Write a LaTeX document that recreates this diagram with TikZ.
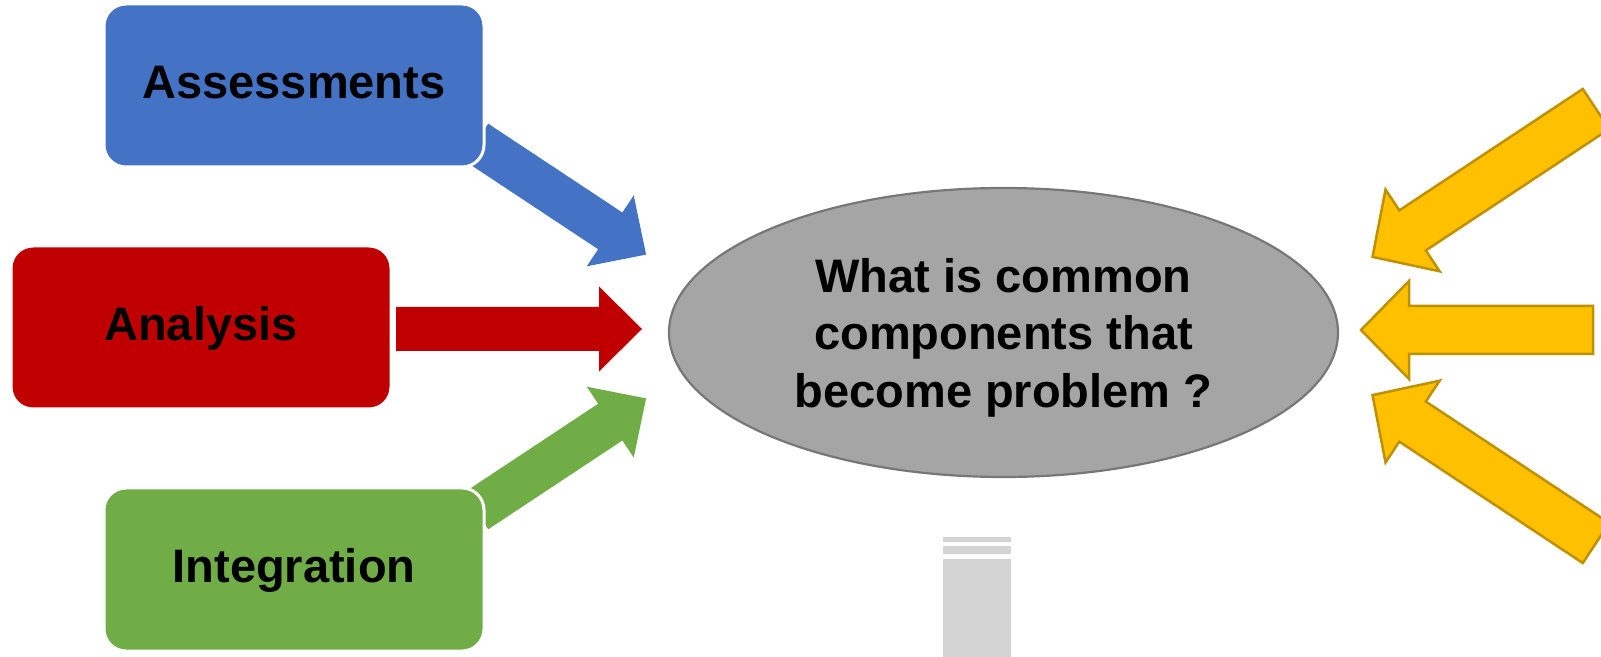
\documentclass[tikz,border=0pt]{standalone}
\usepackage{fontspec}
\setmainfont{Liberation Sans}
\usetikzlibrary{shapes.geometric}

\definecolor{boxblue}{HTML}{4472C4}
\definecolor{boxred}{HTML}{C00000}
\definecolor{boxgreen}{HTML}{70AD47}
\definecolor{gold}{HTML}{FFC000}
\definecolor{golddark}{HTML}{BF9000}
\definecolor{hubfill}{HTML}{A5A5A5}
\definecolor{hubline}{HTML}{777777}
\definecolor{barfill}{HTML}{D4D4D4}

% block arrow: style, tail midpoint, angle, length, shaft half-width, head half-width, head length
\newcommand\blockarrow[7]{%
  \path[#1,shift={(#2)},rotate=#3]
    (0,-#5) -- ({#4-#7},-#5) -- ({#4-#7},-#6) -- (#4,0)
    -- ({#4-#7},#6) -- ({#4-#7},#5) -- (0,#5) -- cycle;}

\tikzset{
  stagebox/.style={rectangle, rounded corners=11pt, draw=white, line width=1.5pt,
    minimum width=190pt, minimum height=81.5pt, inner sep=0pt,
    text height=17.6pt, text depth=4.7pt,
    font=\fontsize{23.5}{28}\selectfont\bfseries, text=black},
  hub/.style={ellipse, fill=hubfill, draw=hubline, line width=1.1pt,
    minimum width=334.5pt, minimum height=144.5pt, inner sep=0pt},
  hubtext/.style={align=center, inner sep=0pt,
    font=\fontsize{23.5}{28.75}\selectfont\bfseries, text=black},
  inarrow/.style={fill=#1},
  goldarrow/.style={fill=gold, draw=golddark, line width=1.25pt, line join=miter},
}

\begin{document}
\begin{tikzpicture}[x=0.5pt, y=-0.5pt]
  \useasboundingbox (0,0) rectangle (1601,657);
  \clip (0,0) rectangle (1601,657);

  % tails of the incoming arrows
  \coordinate (blueTail)  at (476,142);
  \coordinate (redTail)   at (396,329);
  \coordinate (greenTail) at (476,511);
  \coordinate (goldTailA) at (1596,109);
  \coordinate (goldTailB) at (1593,330);
  \coordinate (goldTailC) at (1596,543);

  % arrows from the stages to the question
  \blockarrow{inarrow=boxblue}{blueTail}{-33.5}{204}{22}{42.5}{43}
  \blockarrow{inarrow=boxred}{redTail}{0}{246}{22}{42.5}{43}
  \blockarrow{inarrow=boxgreen}{greenTail}{33.5}{204}{22}{42.5}{43}

  % arrows arriving from the right
  \blockarrow{goldarrow}{goldTailA}{213.5}{268}{24}{49}{48}
  \blockarrow{goldarrow}{goldTailB}{180}{232}{24}{49}{48}
  \blockarrow{goldarrow}{goldTailC}{146.5}{268}{24}{49}{48}

  % stage boxes
  \node[stagebox, fill=boxblue]  (assess) at (294,85.5)  {Assessments};
  \node[stagebox, fill=boxred]   (analys) at (201,327.5) {Analysis};
  \node[stagebox, fill=boxgreen] (integr) at (294,569.5) {Integration};

  % central question
  \node[hub] (question) at (1003.5,332.5) {};
  \node[hubtext] (questionText) at ([yshift=-2.5pt]question.center)
    {What is common\\components that\\become problem ?};

  % grey bar below
  \fill[barfill] (943,537) rectangle (1011,542);
  \fill[barfill] (943,546) rectangle (1011,554);
  \fill[barfill] (943,559) rectangle (1011,657);
\end{tikzpicture}
\end{document}
